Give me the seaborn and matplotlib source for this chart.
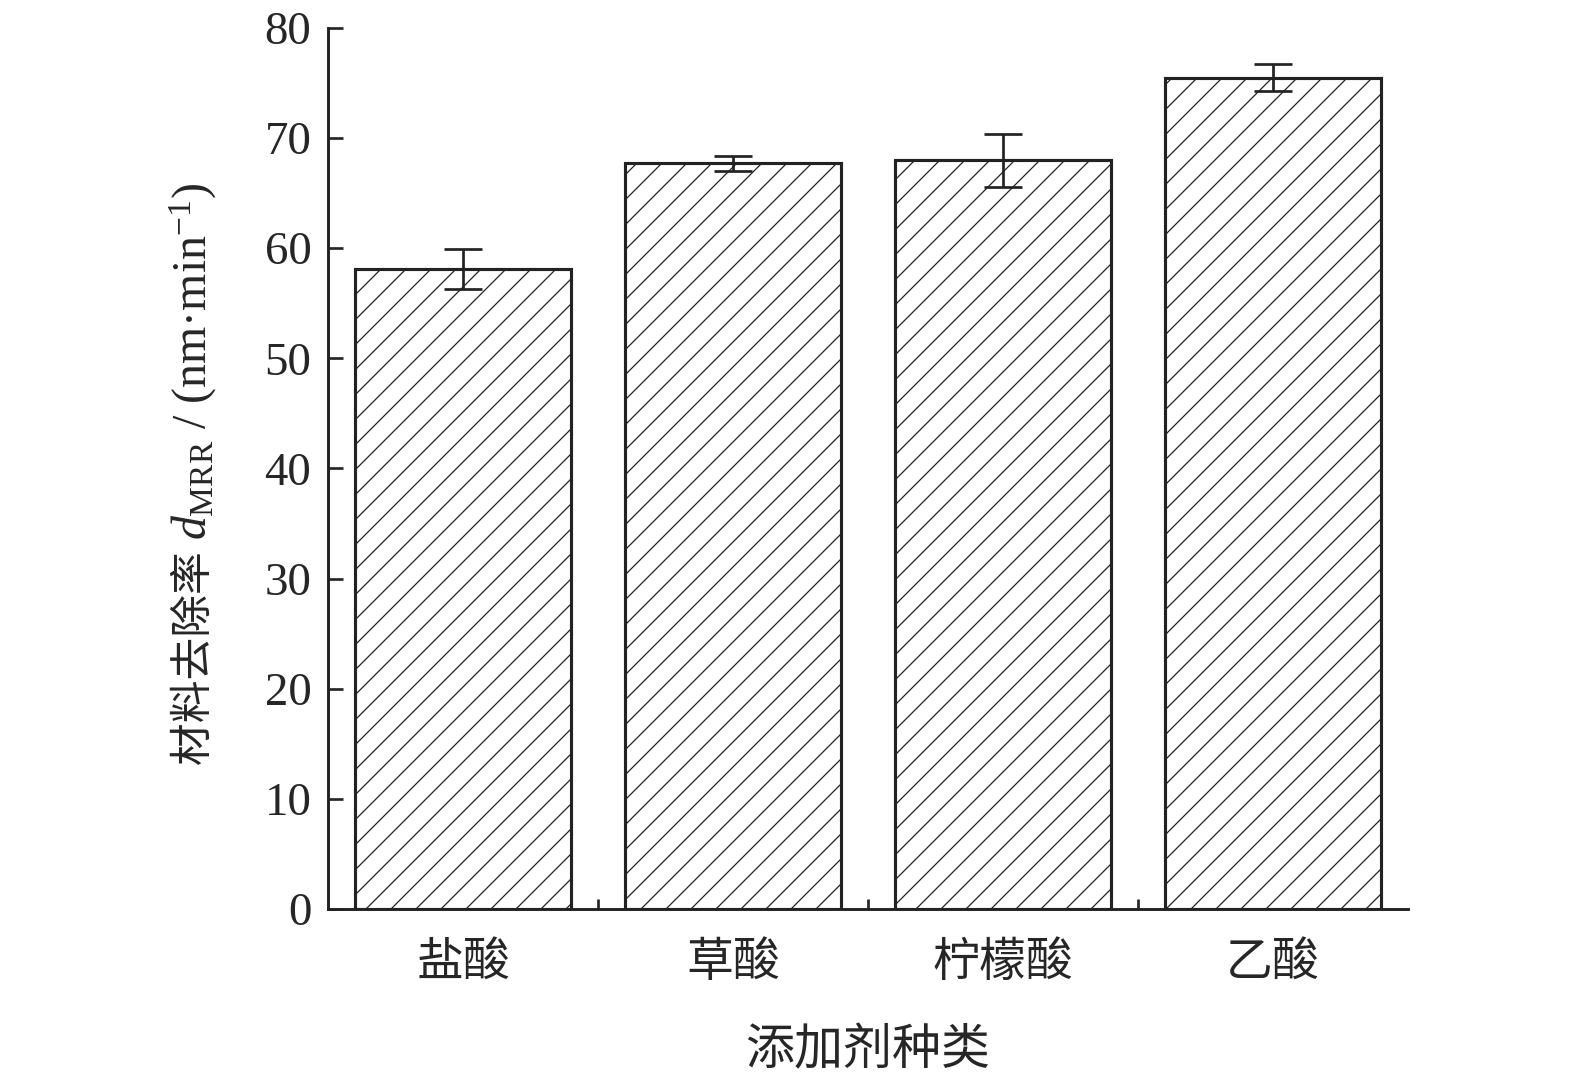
import pandas as pd
import matplotlib
matplotlib.use('Agg')
import matplotlib.pyplot as plt
import seaborn as sns
from matplotlib.ticker import FixedLocator

# 数据
additives = ['盐酸', '草酸', '柠檬酸', '乙酸']
mrr = [58.1, 67.7, 68.0, 75.5]
mrr_err = [1.8, 0.7, 2.4, 1.25]

df = pd.DataFrame({'additive': additives, 'mrr': mrr, 'err': mrr_err})

sns.set_style('ticks')
plt.rcParams['font.family'] = ['Liberation Serif', 'Noto Sans CJK SC']
plt.rcParams['mathtext.fontset'] = 'custom'
plt.rcParams['mathtext.rm'] = 'Liberation Serif'
plt.rcParams['mathtext.it'] = 'Liberation Serif:italic'
plt.rcParams['hatch.linewidth'] = 0.6
plt.rcParams['hatch.color'] = '#444444'

W, H = 1575, 1075
fig = plt.figure(figsize=(W / 150, H / 150), dpi=150)
ax = fig.add_axes([328 / W, 1 - 909 / H, 1080 / W, 881 / H])

sns.barplot(data=df, x='additive', y='mrr', ax=ax, color='white',
            edgecolor='#222222', linewidth=1.5, width=0.8, errorbar=None,
            hatch='//')

ax.errorbar(x=range(len(additives)), y=df['mrr'], yerr=df['err'], fmt='none',
            ecolor='#222222', elinewidth=1.3, capsize=9, capthick=1.3)

ax.set_xlim(-0.5, 3.5)
ax.set_ylim(0, 80)
ax.set_yticks(range(0, 81, 10))
ax.tick_params(axis='y', direction='in', length=7, width=1.3, labelsize=22.5, pad=8)
ax.tick_params(axis='x', which='major', length=0, labelsize=22.5, pad=16)
ax.xaxis.set_minor_locator(FixedLocator([0.5, 1.5, 2.5]))
ax.tick_params(axis='x', which='minor', direction='in', length=5, width=1.3)

for s in ['left', 'bottom']:
    ax.spines[s].set_linewidth(1.4)
    ax.spines[s].set_color('#222222')
sns.despine(ax=ax)

ax.set_xlabel('添加剂种类', fontsize=23.5, labelpad=20)
ax.set_ylabel('')

# y 轴标题: 中文部分与公式部分分开绘制 (mathtext 不支持中文字体回退)
x0 = 207 / W
y0 = 1 - 765 / H
t1 = fig.text(x0, y0, '材料去除率 ', rotation=90, rotation_mode='anchor',
              ha='left', va='baseline', fontsize=20.5)
fig.canvas.draw()
bb = t1.get_window_extent(fig.canvas.get_renderer())
y1 = bb.y1 / H
fig.text(x0, y1, r'$d_{\mathrm{MRR}}$ / (nm·min$^{-1}$)', rotation=90,
         rotation_mode='anchor', ha='left', va='baseline', fontsize=23)

fig.savefig('out.png', dpi=150)
